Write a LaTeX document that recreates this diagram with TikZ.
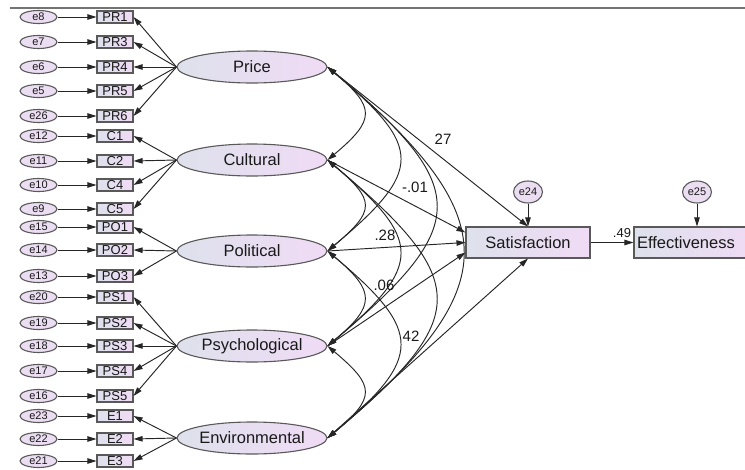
\documentclass[tikz,border=0pt]{standalone}
\usepackage{fontspec}
\setmainfont{Liberation Sans}
\usetikzlibrary{arrows.meta,shapes.geometric}

\begin{document}
\begin{tikzpicture}[x=1pt,y=1pt,
  path/.style={draw=black!85, line width=0.95pt,
               -{Triangle[length=9pt,width=5.5pt]}},
  cov/.style={draw=black!85, line width=0.95pt,
              {Triangle[length=9pt,width=5.5pt]}-{Triangle[length=9pt,width=5.5pt]}},
  latent/.style={ellipse, draw=black!65, line width=1.1pt,
                 left color=latl, right color=latr,
                 minimum width=150pt, minimum height=32pt, inner sep=0pt,
                 font=\fontsize{16.5}{18}\selectfont, text=black!90},
  obsv/.style={rectangle, draw=black!65, line width=1.1pt,
               left color=latl, right color=latr,
               minimum width=36pt, minimum height=12pt, inner sep=0pt,
               font=\fontsize{13}{13}\selectfont, text=black!90},
  bigbox/.style={rectangle, draw=black!65, line width=1.1pt,
                 left color=latl, right color=latr,
                 minimum width=124pt, minimum height=31pt, inner sep=0pt,
                 font=\fontsize{16.5}{18}\selectfont, text=black!90},
  errv/.style={ellipse, draw=black!65, line width=1.1pt, fill=errclr,
               minimum width=37pt, minimum height=13pt, inner sep=0pt,
               font=\fontsize{11}{11}\selectfont, text=black!90},
  resid/.style={errv, minimum width=29pt, minimum height=22pt},
  coef/.style={font=\fontsize{15}{15}\selectfont, text=black!90, inner sep=0pt}]

\definecolor{latl}{RGB}{222,225,236}
\definecolor{latr}{RGB}{240,219,245}
\definecolor{errclr}{RGB}{236,222,242}

\useasboundingbox (0,0) rectangle (745,-469);

% ---- (1) frame line at the top ---------------------------------
\draw[draw=black!55, line width=1.2pt] (10,-8) -- (745,-8);

% ---- (2) indicators with their error terms ---------------------
\foreach \err/\ind/\yy in {e8/PR1/17, e7/PR3/42, e6/PR4/67, e5/PR5/91,
    e26/PR6/116, e12/C1/136, e11/C2/161, e10/C4/185, e9/C5/209,
    e15/PO1/227, e14/PO2/250, e13/PO3/276, e20/PS1/297, e19/PS2/323,
    e18/PS3/346, e17/PS4/371, e16/PS5/396, e23/E1/416, e22/E2/439,
    e21/E3/461}{%
  \node[errv] (\err) at (38.5,-\yy) {\err};
  \node[obsv] (\ind) at (115,-\yy) {\ind};
  \draw[path] (\err.east) -- (\ind.west);
}

% ---- (3) latent factors ----------------------------------------
\node[latent] (price)     at (252,-67)  {Price};
\node[latent] (cultural)  at (252,-160) {Cultural};
\node[latent] (political) at (252,-251) {Political};
\node[latent] (psych)     at (252,-346) {Psychological};
\node[latent] (env)       at (252,-438) {Environmental};

\foreach \ind in {PR1,PR3,PR4,PR5,PR6}
  \draw[path] (price.west) -- (\ind.east);
\foreach \ind in {C1,C2,C4,C5}
  \draw[path] (cultural.west) -- (\ind.east);
\foreach \ind in {PO1,PO2,PO3}
  \draw[path] (political.west) -- (\ind.east);
\foreach \ind in {PS1,PS2,PS3,PS4,PS5}
  \draw[path] (psych.west) -- (\ind.east);
\foreach \ind in {E1,E2,E3}
  \draw[path] (env.west) -- (\ind.east);

% ---- (4) covariances between the factors -----------------------
\draw[cov] (price.east)     to[out=-40,in=40,distance=63pt]  (cultural.east);
\draw[cov] (cultural.east)  to[out=-40,in=40,distance=63pt]  (political.east);
\draw[cov] (political.east) to[out=-40,in=40,distance=63pt]  (psych.east);
\draw[cov] (psych.east)     to[out=-40,in=40,distance=63pt]  (env.east);
\draw[cov] (price.east)     to[out=-40,in=40,distance=125pt] (political.east);
\draw[cov] (cultural.east)  to[out=-40,in=40,distance=125pt] (psych.east);
\draw[cov] (political.east) to[out=-40,in=40,distance=125pt] (env.east);
\draw[cov] (price.east)     to[out=-40,in=40,distance=188pt] (psych.east);
\draw[cov] (cultural.east)  to[out=-40,in=40,distance=188pt] (env.east);
\draw[cov] (price.east)     to[out=-40,in=40,distance=235pt] (env.east);

% ---- (5) structural part ---------------------------------------
\node[bigbox] (sat) at (528,-242.5) {Satisfaction};
\node[bigbox, text width=120pt, align=left, inner xsep=3pt]
      (effect) at (697,-242.5) {Effectiveness};
\node[resid] (e24) at (528,-192) {e24};
\node[resid] (e25) at (697,-192) {e25};

\draw[path] (price.east)     -- (sat.north);
\draw[path] (cultural.east)  -- ([yshift=10pt]sat.west);
\draw[path] (political.east) -- (sat.west);
\draw[path] (psych.east)     -- ([yshift=-10pt]sat.west);
\draw[path] (env.east)       -- (sat.south);
\draw[path] (e24) -- (sat.north);
\draw[path] (e25) -- (effect.north);
\draw[path] (sat.east) -- (effect.west);

% ---- (6) path coefficients -------------------------------------
\node[coef] (b27) at (443,-139) {27};
\node[coef] (b01) at (415,-187) {-.01};
\node[coef] (b28) at (385,-235) {.28};
\node[coef] (b06) at (384,-285) {.06};
\node[coef] (b42) at (411,-336) {42};
\node[coef, font=\fontsize{13}{13}\selectfont] (b49) at (622,-233) {.49};

\end{tikzpicture}
\end{document}
